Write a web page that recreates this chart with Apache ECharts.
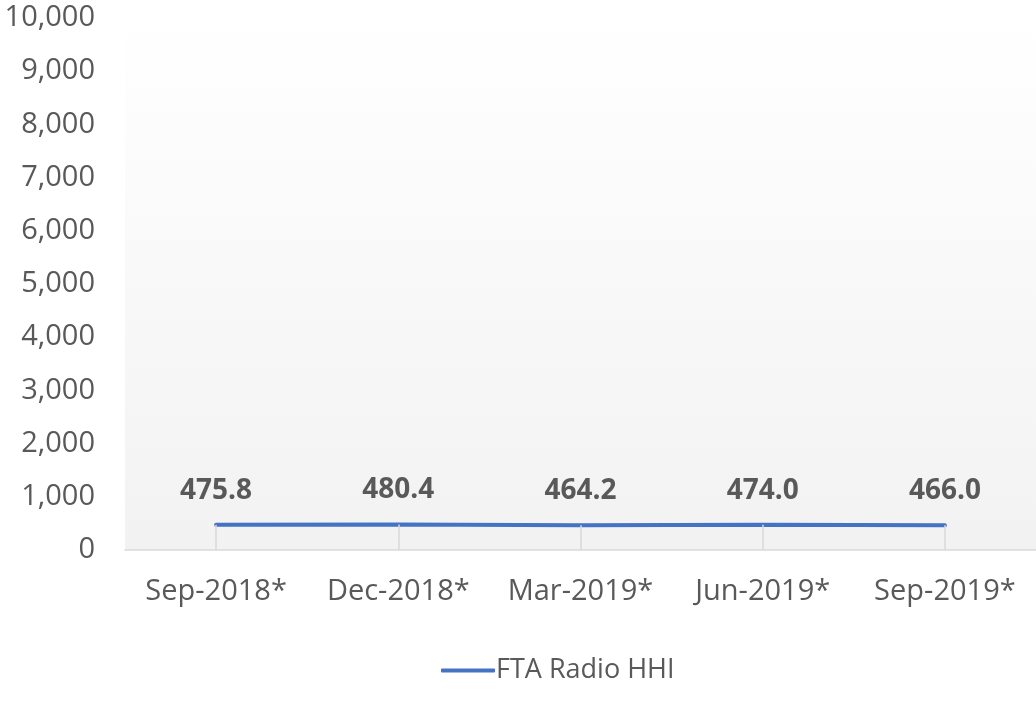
<!DOCTYPE html>
<html>
<head>
<meta charset="utf-8">
<title>FTA Radio HHI</title>
<script src="https://cdn.jsdelivr.net/npm/echarts@6/dist/echarts.min.js"></script>
<style>
  html, body { margin: 0; padding: 0; background: #ffffff; }
  #chart { width: 1036px; height: 713px; }
</style>
</head>
<body>
<div id="chart"></div>
<script>
// Quarterly HHI for free-to-air radio
const categories = ['Sep-2018*', 'Dec-2018*', 'Mar-2019*', 'Jun-2019*', 'Sep-2019*'];
const hhiValues = [475.8, 480.4, 464.2, 474.0, 466.0];
const seriesName = 'FTA Radio HHI';
const yMin = 0;
const yMax = 10000;
const yInterval = 1000;

const FONT = '"Open Sans", "Noto Sans", sans-serif';
const TEXT = '#595959';
const AXIS = '#d9d9d9';
const LINE = '#4472c4';

// Drop lines from each point to the category axis
const dropLines = hhiValues.map((v, i) => [
  { coord: [i, v] },
  { coord: [i, 0] }
]);

const chart = echarts.init(document.getElementById('chart'));
chart.setOption({
  animation: false,
  textStyle: { fontFamily: FONT },
  grid: {
    left: 125,
    right: 0,
    top: 18,
    bottom: 163,
    show: true,
    borderWidth: 0,
    backgroundColor: new echarts.graphic.LinearGradient(0, 0, 0, 1, [
      { offset: 0, color: '#ffffff' },
      { offset: 1, color: '#f2f2f2' }
    ])
  },
  legend: {
    data: [{ name: seriesName, icon: 'roundRect' }],
    left: 436,
    top: 652,
    itemWidth: 54,
    itemHeight: 4,
    itemGap: 4,
    textStyle: { fontFamily: FONT, fontSize: 27, color: TEXT, padding: [0, 0, 0, -4] }
  },
  xAxis: {
    type: 'category',
    data: categories,
    boundaryGap: true,
    axisLine: { lineStyle: { color: AXIS, width: 1.5 } },
    axisTick: { show: false },
    axisLabel: { fontFamily: FONT, fontSize: 29, color: TEXT, margin: 27, interval: 0 }
  },
  yAxis: {
    type: 'value',
    min: yMin,
    max: yMax,
    interval: yInterval,
    axisLine: { show: false },
    axisTick: { show: false },
    splitLine: { show: false },
    axisLabel: {
      fontFamily: FONT,
      fontSize: 29,
      color: TEXT,
      margin: 30,
      formatter: v => v.toLocaleString('en-US')
    }
  },
  series: [{
    name: seriesName,
    type: 'line',
    data: hhiValues,
    symbol: 'circle',
    symbolSize: 0.1,
    showSymbol: true,
    lineStyle: { color: LINE, width: 4, cap: 'round' },
    itemStyle: { color: LINE },
    label: {
      show: true,
      position: 'top',
      distance: 20,
      fontFamily: FONT,
      fontSize: 28,
      fontWeight: 'bold',
      color: TEXT,
      formatter: p => p.value.toFixed(1)
    },
    markLine: {
      silent: true,
      symbol: ['none', 'none'],
      label: { show: false },
      lineStyle: { color: AXIS, width: 1.5, type: 'solid' },
      data: dropLines
    }
  }]
});
</script>
</body>
</html>
